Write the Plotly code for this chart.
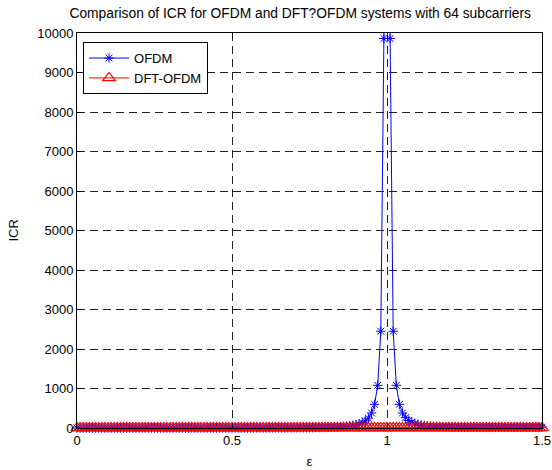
import plotly.graph_objects as go

# epsilon values (step 0.01 from 0 to 1.5)
eps = [round(i * 0.01, 2) for i in range(151)]

icr_ofdm = [
    # 0.00 - 0.09
    0, 0.0003, 0.0013, 0.003, 0.005, 0.008, 0.012, 0.016, 0.021, 0.027,
    # 0.10 - 0.19
    0.034, 0.04, 0.048, 0.057, 0.066, 0.076, 0.087, 0.099, 0.11, 0.126,
    # 0.20 - 0.29
    0.143, 0.158, 0.175, 0.193, 0.212, 0.233, 0.255, 0.279, 0.304, 0.33,
    # 0.30 - 0.39
    0.357, 0.387, 0.418, 0.451, 0.487, 0.525, 0.566, 0.61, 0.656, 0.705,
    # 0.40 - 0.49
    0.746, 0.80, 0.86, 0.92, 0.99, 1.06, 1.13, 1.21, 1.29, 1.38,
    # 0.50 - 0.59
    1.47, 1.57, 1.68, 1.79, 1.91, 2.04, 2.18, 2.33, 2.5, 2.7,
    # 0.60 - 0.69
    2.93, 3.16, 3.4, 3.67, 3.96, 4.28, 4.63, 5.02, 5.45, 5.9,
    # 0.70 - 0.79
    6.39, 6.95, 7.6, 8.3, 9.1, 10.0, 11.1, 12.4, 13.8, 15.4,
    # 0.80 - 0.89
    17.3, 19.5, 22.1, 25.2, 29.0, 33.6, 39.2, 46.3, 55.2, 66.7,
    # 0.90 - 0.99
    83, 104, 134, 178, 250, 380, 600, 1080, 2450, 9860,
    # 1.00 (off scale)
    1000000,
    # 1.01 - 1.10
    9860, 2450, 1080, 600, 380, 262, 190, 145, 113, 91,
    # 1.11 - 1.20
    75, 63, 54, 47, 41.5, 37, 33.5, 30.5, 28, 26,
    # 1.21 - 1.30
    24.5, 23.2, 22.1, 21.2, 20.5, 19.9, 19.4, 19.0, 18.7, 18.5,
    # 1.31 - 1.40
    18.4, 18.3, 18.3, 18.4, 18.5, 18.7, 18.9, 19.1, 19.4, 19.7,
    # 1.41 - 1.50
    20.0, 20.3, 20.6, 20.9, 21.2, 21.5, 21.8, 22.1, 22.4, 22.7,
]

icr_dft = [
    0, 0.01, 0.02, 0.03, 0.04, 0.05, 0.06, 0.07, 0.08, 0.09,
    0.1, 0.11, 0.12, 0.13, 0.14, 0.15, 0.16, 0.17, 0.18, 0.19,
    0.2, 0.21, 0.22, 0.23, 0.24, 0.25, 0.26, 0.27, 0.28, 0.29,
    0.3, 0.31, 0.32, 0.33, 0.34, 0.35, 0.36, 0.37, 0.38, 0.39,
    0.4, 0.41, 0.42, 0.43, 0.44, 0.45, 0.46, 0.47, 0.48, 0.49,
    0.5, 0.51, 0.52, 0.53, 0.54, 0.55, 0.56, 0.57, 0.58, 0.59,
    0.6, 0.61, 0.62, 0.63, 0.64, 0.65, 0.66, 0.67, 0.68, 0.69,
    0.7, 0.71, 0.72, 0.73, 0.74, 0.75, 0.76, 0.77, 0.78, 0.79,
    0.8, 0.81, 0.82, 0.83, 0.84, 0.85, 0.86, 0.87, 0.88, 0.89,
    0.9, 0.91, 0.92, 0.93, 0.94, 0.95, 0.96, 0.97, 0.98, 0.99,
    1.0,
    1.01, 1.02, 1.03, 1.04, 1.05, 1.06, 1.07, 1.08, 1.09, 1.1,
    1.11, 1.12, 1.13, 1.14, 1.15, 1.16, 1.17, 1.18, 1.19, 1.2,
    1.21, 1.22, 1.23, 1.24, 1.25, 1.26, 1.27, 1.28, 1.29, 1.3,
    1.31, 1.32, 1.33, 1.34, 1.35, 1.36, 1.37, 1.38, 1.39, 1.4,
    1.41, 1.42, 1.43, 1.44, 1.45, 1.46, 1.47, 1.48, 1.49, 1.5,
]

x_ticks = [0, 0.5, 1, 1.5]
x_tick_labels = ["0", "0.5", "1", "1.5"]
y_ticks = [0, 1000, 2000, 3000, 4000, 5000, 6000, 7000, 8000, 9000, 10000]
y_tick_labels = ["0", "1000", "2000", "3000", "4000", "5000",
                 "6000", "7000", "8000", "9000", "10000"]

FONT = "Liberation Sans, Arial, Helvetica, sans-serif"

fig = go.Figure()
fig.add_trace(go.Scatter(
    x=eps, y=icr_ofdm, name="OFDM", mode="lines+markers",
    line=dict(color="#0000ff", width=1),
    marker=dict(symbol="asterisk-open", size=8, color="#0000ff",
                line=dict(color="#0000ff", width=1)),
    cliponaxis=False,
))
fig.add_trace(go.Scatter(
    x=eps, y=icr_dft, name="DFT-OFDM", mode="lines+markers",
    line=dict(color="#ff0000", width=1),
    marker=dict(symbol="triangle-up-open", size=11, color="#ff0000",
                line=dict(color="#ff0000", width=1.2)),
    cliponaxis=False,
))

axis_common = dict(
    showline=True, linecolor="black", linewidth=1, mirror="allticks",
    ticks="inside", ticklen=5, tickcolor="black", tickwidth=1,
    showgrid=True, gridcolor="#222222", gridwidth=1, griddash="8px,5px",
    zeroline=False, automargin=False,
    tickfont=dict(family=FONT, size=13, color="black"),
)

fig.update_xaxes(range=[0, 1.5], tickvals=x_ticks, ticktext=x_tick_labels,
                 title=dict(text="ε", font=dict(family=FONT, size=13, color="black"), standoff=10),
                 **axis_common)
fig.update_yaxes(range=[0, 10000], tickvals=y_ticks, ticktext=y_tick_labels,
                 title=dict(text="", font=dict(family=FONT, size=13, color="black")),
                 **axis_common)

fig.add_annotation(
    text="ICR", xref="paper", yref="paper",
    x=(13 - 77) / 465, y=0.5, xanchor="center", yanchor="middle",
    textangle=-90, showarrow=False,
    font=dict(family=FONT, size=13, color="black"),
)

fig.update_layout(
    width=552, height=470,
    margin=dict(l=77, r=10, t=33, b=42),
    paper_bgcolor="white", plot_bgcolor="white",
    font=dict(family=FONT, size=13, color="black"),
    title=dict(text="Comparison of ICR for OFDM and DFT?OFDM systems with 64 subcarriers",
               x=0.48, xanchor="center", xref="paper",
               y=1 - 13 / 470, yanchor="middle", yref="container",
               font=dict(family=FONT, size=13.8, color="black")),
    legend=dict(x=0.013, y=0.977, xanchor="left", yanchor="top",
                bordercolor="black", borderwidth=1, bgcolor="white",
                font=dict(family=FONT, size=13, color="black"),
                tracegroupgap=0, itemwidth=40),
    showlegend=True,
)

fig.write_html("out.html", config={"displayModeBar": False},
               post_script="document.body.style.margin='0';")
